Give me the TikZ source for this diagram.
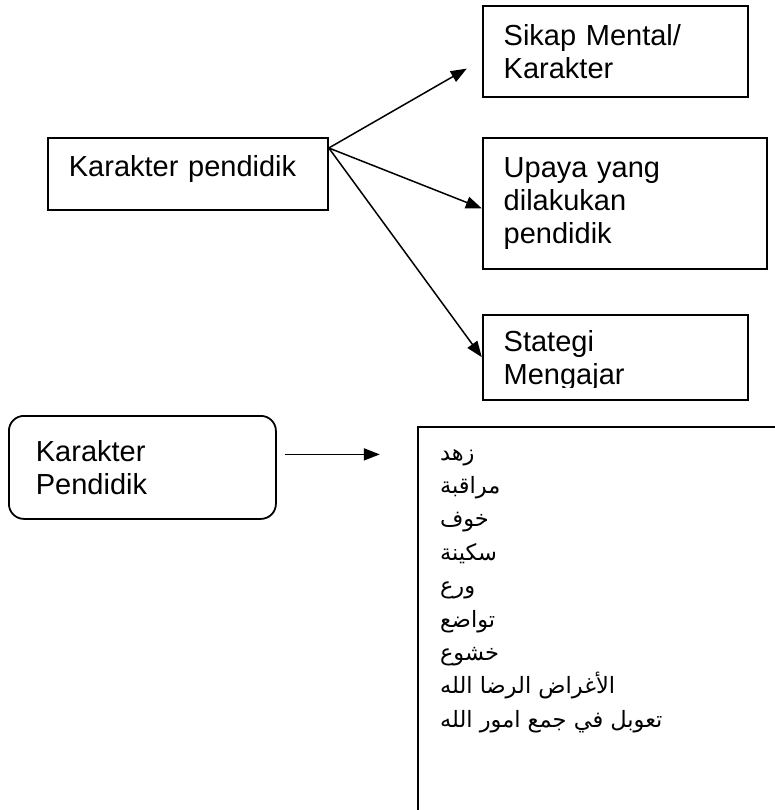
\documentclass[tikz,border=0pt]{standalone}
\usepackage{fontspec}
\setmainfont{Liberation Sans}
\newfontfamily\arabicfont[Script=Arabic]{DejaVu Sans}
\TeXXeTstate=1
\usetikzlibrary{arrows.meta, positioning}

\begin{document}
\begin{tikzpicture}[
        x=1pt, y=-1pt,
        box/.style={draw, rectangle, line width=1.8pt, inner xsep=21pt, inner ysep=0pt, align=left, anchor=north west, font=\fontsize{29}{33}\selectfont},
        roundbox/.style={box, rounded corners=15pt, inner xsep=27pt},
        link/.style={-{Triangle[length=16pt, width=12pt]}, line width=1.5pt}
    ]
        \useasboundingbox (0,0) rectangle (774,810);

        % Nodes
        \node (karakter) [box, text width=238pt, text depth=16pt, minimum height=72pt] at (47,137) {Karakter pendidik};

        \node (upaya) [box, text width=242pt, minimum height=131pt, right=153pt of karakter.north east, anchor=north west] {Upaya yang\\dilakukan\\pendidik};
        \node (sikap) [box, text width=223pt, minimum height=91pt, above=39pt of upaya.north west, anchor=south west] {Sikap Mental/\\Karakter};
        \node (stategi) [box, minimum width=265pt, minimum height=85pt, below=44pt of upaya.south west, anchor=north west] {};
        \begin{scope}
            \clip ([yshift=13pt]stategi.south west) rectangle (stategi.north east);
            \node (stategiteks) [box, draw=none, anchor=center, text width=223pt, yshift=-3pt] at (stategi) {Stategi\\Mengajar};
        \end{scope}

        \node (pendidik) [roundbox, text width=213pt, minimum height=103pt] at (8,415) {Karakter\\Pendidik};
        \node (amalan) [box, minimum width=420pt, minimum height=420pt, right=140pt of pendidik.north east, anchor=north west, yshift=-11pt] {};
        \node (amalanteks) [anchor=north west, inner sep=0pt, align=left, font=\arabicfont\fontsize{22.5}{33.4}\selectfont] at ([xshift=23pt, yshift=-23pt]amalan.north west) {%
            \beginR زهد\endR\\
            \beginR مراقبة\endR\\
            \beginR خوف\endR\\
            \beginR سكينة\endR\\
            \beginR ورع\endR\\
            \beginR تواضع\endR\\
            \beginR خشوع\endR\\
            \beginR الأغراض الرضا الله\endR\\
            \beginR تعوبل في جمع امور الله\endR};

        % Wires
        \coordinate (fork) at ([yshift=-11pt]karakter.north east);
        \coordinate (sikaptip) at ([xshift=-15pt, yshift=-17pt]sikap.west);
        \draw[link] (fork) -- (sikaptip);
        \draw[link] (fork) -- ([yshift=-5pt]upaya.west);
        \draw[link] (fork) -- (stategi.west);

        \coordinate (pendidikout) at ([xshift=8pt, yshift=13pt]pendidik.east);
        \coordinate (amalantip) at (amalan.west |- pendidikout);
        \draw[link, line width=1.8pt] (pendidikout) -- ([xshift=-37pt]amalantip);

    \end{tikzpicture}
\end{document}
